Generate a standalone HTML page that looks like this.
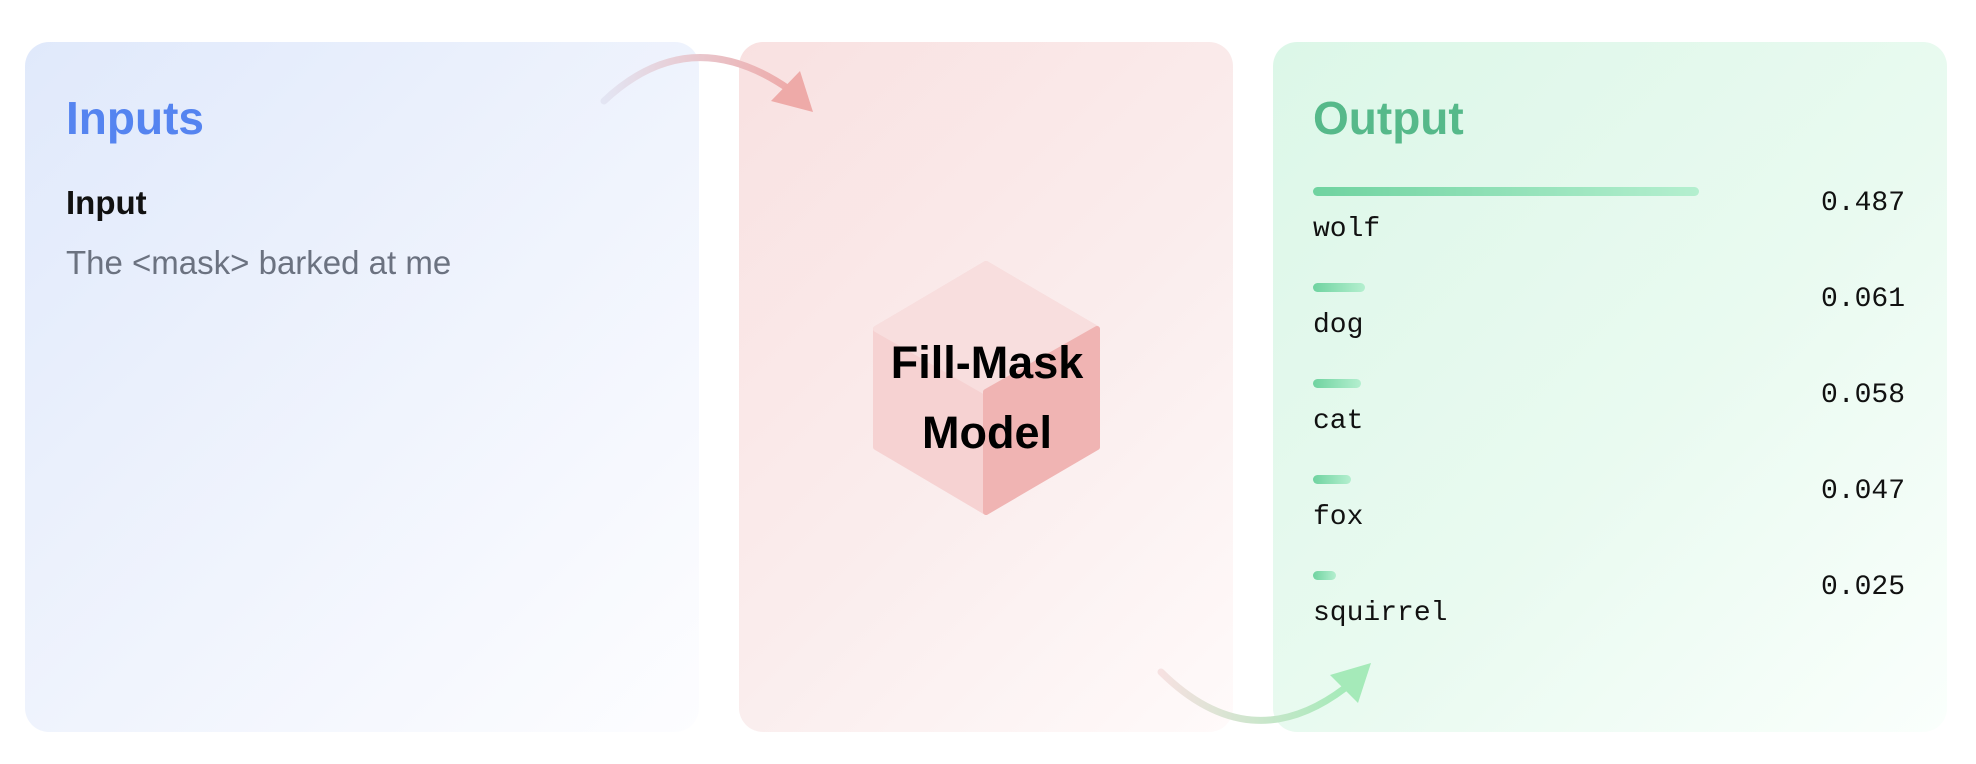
<!DOCTYPE html>
<html><head><meta charset="utf-8"><style>
body{margin:0;width:1976px;height:764px;background:#fff;position:relative;overflow:hidden;font-family:"Liberation Sans",sans-serif}
.p{position:absolute;top:42px;height:690px;border-radius:24px}
.mono{font-family:"Liberation Mono","DejaVu Sans Mono",monospace;font-size:28px;color:#111;position:absolute}
.bar{position:absolute;height:9px;border-radius:5px;background:linear-gradient(90deg,#6fd3a0,#b4efcf);left:1313px}
</style></head><body>
<div class="p" style="left:25px;width:674px;background:linear-gradient(135deg,#e0e9fb,#f0f4fd 55%,#fdfdff)"></div>
<div class="p" style="left:739px;width:494px;background:linear-gradient(135deg,#f9e1e1,#faeded 55%,#fffafa)"></div>
<div class="p" style="left:1273px;width:674px;background:linear-gradient(135deg,#dcf7e8,#e9faf0 55%,#fafffc)"></div>

<div style="position:absolute;left:66px;top:91px;font-size:46px;font-weight:bold;color:#5584f0">Inputs</div>
<div style="position:absolute;left:66px;top:184px;font-size:33px;font-weight:bold;color:#111">Input</div>
<div style="position:absolute;left:66px;top:244px;font-size:33px;color:#6b7280">The &lt;mask&gt; barked at me</div>

<svg style="position:absolute;left:0;top:0" width="1976" height="764">
<defs>
<linearGradient id="a1" x1="0" x2="1"><stop offset="0" stop-color="#e3e5f3"/><stop offset="1" stop-color="#eeaaa9"/></linearGradient>
<linearGradient id="a2" x1="0" x2="1"><stop offset="0" stop-color="#f6e1e1"/><stop offset="1" stop-color="#a5eab9"/></linearGradient>
</defs>
<path d="M604 101 Q690 20 790 90" fill="none" stroke="url(#a1)" stroke-width="7" stroke-linecap="round"/>
<polygon points="813,112 771,101 800,71" fill="#eeaaa8"/>
<path d="M1161 672 Q1250 760 1345 688" fill="none" stroke="url(#a2)" stroke-width="7" stroke-linecap="round"/>
<polygon points="1371,663 1330,675 1358,703" fill="#a5eab9"/>
<polygon points="986,264 1097,329 1097,447 986,512 876,447 876,329" fill="#f6d2d2" stroke="#f6d2d2" stroke-width="6" stroke-linejoin="round"/>
<polygon points="986,264 1097,329 986,392 876,329" fill="#f8dede" stroke="#f8dede" stroke-width="6" stroke-linejoin="round"/>
<polygon points="986,392 1097,329 1097,447 986,512" fill="#f0b4b3" stroke="#f0b4b3" stroke-width="6" stroke-linejoin="round"/>
<text x="987" y="378" text-anchor="middle" font-family="Liberation Sans" font-weight="bold" font-size="45" fill="#000">Fill-Mask</text>
<text x="987" y="448" text-anchor="middle" font-family="Liberation Sans" font-weight="bold" font-size="45" fill="#000">Model</text>
</svg>

<div style="position:absolute;left:1313px;top:91px;font-size:46px;font-weight:bold;color:#56b98a">Output</div>

<div class="bar" style="top:187px;width:386px"></div>
<div class="mono" style="left:1313px;top:214px">wolf</div>
<div class="mono" style="right:71px;top:188px">0.487</div>
<div class="bar" style="top:283px;width:52px"></div>
<div class="mono" style="left:1313px;top:310px">dog</div>
<div class="mono" style="right:71px;top:284px">0.061</div>
<div class="bar" style="top:379px;width:48px"></div>
<div class="mono" style="left:1313px;top:406px">cat</div>
<div class="mono" style="right:71px;top:380px">0.058</div>
<div class="bar" style="top:475px;width:38px"></div>
<div class="mono" style="left:1313px;top:502px">fox</div>
<div class="mono" style="right:71px;top:476px">0.047</div>
<div class="bar" style="top:571px;width:23px"></div>
<div class="mono" style="left:1313px;top:598px">squirrel</div>
<div class="mono" style="right:71px;top:572px">0.025</div>
</body></html>
